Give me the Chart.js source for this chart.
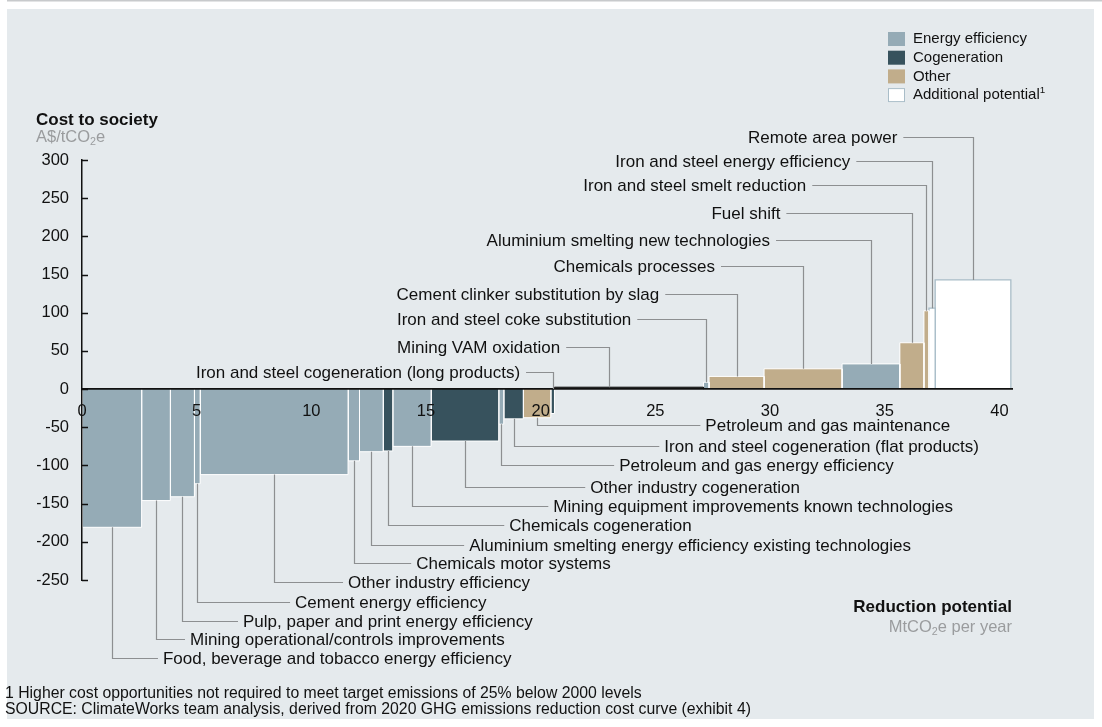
<!DOCTYPE html>
<html>
<head>
<meta charset="utf-8">
<script src="https://cdn.jsdelivr.net/npm/chart.js@4.4.1/dist/chart.umd.min.js"></script>
<style>
  body { margin: 0; background: #fff; overflow: hidden; }
</style>
</head>
<body>
<canvas id="myChart" width="1102" height="727"></canvas>
<script>
// Opportunities, left to right along the curve
const names = [
  "Food, beverage and tobacco energy efficiency",
  "Mining operational/controls improvements",
  "Pulp, paper and print energy efficiency",
  "Cement energy efficiency",
  "Other industry efficiency",
  "Chemicals motor systems",
  "Aluminium smelting energy efficiency existing technologies",
  "Chemicals cogeneration",
  "Mining equipment improvements known technologies",
  "Other industry cogeneration",
  "Petroleum and gas energy efficiency",
  "Iron and steel cogeneration (flat products)",
  "Petroleum and gas maintenance",
  "Iron and steel cogeneration (long products)",
  "Mining VAM oxidation",
  "Iron and steel coke substitution",
  "Cement clinker substitution by slag",
  "Chemicals processes",
  "Aluminium smelting new technologies",
  "Fuel shift",
  "Iron and steel smelt reduction",
  "Iron and steel energy efficiency",
  "Remote area power",
];
// reduction potential, MtCO2e per year (bar widths)
const widths = [2.6, 1.25, 1.05, 0.25, 6.45, 0.5, 1.03, 0.42, 1.67, 2.95, 0.22, 0.85, 1.2, 0.16, 6.5, 0.24, 2.4, 3.4, 2.52, 1.05, 0.22, 0.27, 3.3];
// cost to society, A$/tCO2e (bar heights)
const costs = [-181, -146, -141, -124, -112, -94, -82, -81, -75, -68, -46, -39, -37.5, -32, 2.5, 9, 16.6, 26.6, 33, 60.7, 102.6, 106, 143];
const types = ["ee", "ee", "ee", "ee", "ee", "ee", "ee", "cogen", "ee", "cogen", "ee", "cogen", "other", "cogen", "vam", "ee", "other", "other", "ee", "other", "other", "add", "add"];

const yTicks = [-250, -200, -150, -100, -50, 0, 50, 100, 150, 200, 250, 300];
const xTicks = [0, 5, 10, 15, 20, 25, 30, 35, 40];

// where each callout text sits (x in MtCO2e, y in A$/tCO2e)
const labelX = [3.53, 4.71, 7.02, 9.29, 11.6, 14.57, 16.88, 18.63, 20.55, 22.16, 23.42, 25.39, 27.18, 19.1, 20.85, 23.95, 25.17, 27.6, 30.0, 30.45, 31.58, 33.5, 35.55];
const labelY = [-354, -329, -305, -280, -254, -229, -206, -179.5, -155, -130, -101, -76, -48.5, 21, 54, 90, 123, 160, 194, 229, 266, 297.5, 329];
const leaderOverride = { 14: 22.99 };

const colors = {
  ee: "#95abb6",
  cogen: "#37525d",
  other: "#c1ad8b",
  vam: "#151515",
  add: "#ffffff",
};
const legendItems = [
  ["Energy efficiency", "ee"],
  ["Cogeneration", "cogen"],
  ["Other", "other"],
  ["Additional potential", "add"],
];

const FONT = "'Liberation Sans', Arial, sans-serif";

// left edge of each bar
const starts = [];
let acc = 0;
widths.forEach((w) => {
  starts.push(acc);
  acc += w;
});

const datasets = names.map((name, i) => {
  const x0 = starts[i];
  const x1 = starts[i] + widths[i];
  let border = "#ffffff";
  if (types[i] == "add") border = "#a9bdc8";
  if (types[i] == "vam") border = colors.vam;
  return {
    label: name,
    data: [
      { x: x0, y: 0 },
      { x: x0, y: costs[i] },
      { x: x1, y: costs[i] },
      { x: x1, y: 0 },
    ],
    backgroundColor: colors[types[i]],
    borderColor: border,
    borderWidth: types[i] == "add" ? 1.3 : 1,
    fill: "origin",
    pointRadius: 0,
    tension: 0,
  };
});

// draw text with a subscript / superscript part
function drawParts(ctx, parts, x, y, align, size, bold) {
  const w = parts.map((p) => {
    ctx.font = (bold ? "bold " : "") + (p.sub || p.sup ? size * 0.65 : size) + "px " + FONT;
    return ctx.measureText(p.t).width;
  });
  const total = w.reduce((a, b) => a + b, 0);
  let cx = align == "right" ? x - total : x;
  ctx.textAlign = "left";
  parts.forEach((p, k) => {
    ctx.font = (bold ? "bold " : "") + (p.sub || p.sup ? size * 0.65 : size) + "px " + FONT;
    let dy = 0;
    if (p.sub) dy = size * 0.3;
    if (p.sup) dy = -size * 0.35;
    ctx.fillText(p.t, cx, y + dy);
    cx += w[k];
  });
}

const panelPlugin = {
  id: "panel",
  beforeDraw(chart) {
    const ctx = chart.ctx;
    ctx.save();
    ctx.fillStyle = "#ffffff";
    ctx.fillRect(0, 0, chart.width, chart.height);
    ctx.fillStyle = "#c8cacc";
    ctx.fillRect(7, 0, chart.width - 7, 1.5);
    ctx.fillStyle = "#e5eaed";
    ctx.fillRect(7, 9, 1087, 710);
    ctx.restore();
  },
};

const calloutPlugin = {
  id: "callouts",
  afterDraw(chart) {
    const ctx = chart.ctx;
    const x = chart.scales.x;
    const y = chart.scales.y;
    ctx.save();

    // inner tick marks on the y axis
    ctx.strokeStyle = "#111";
    ctx.lineWidth = 1.5;
    yTicks.forEach((v) => {
      const py = Math.round(y.getPixelForValue(v)) + 0.5;
      ctx.beginPath();
      ctx.moveTo(x.left, py);
      ctx.lineTo(x.left + 6, py);
      ctx.stroke();
    });

    // leader lines and callout text
    ctx.font = "17px " + FONT;
    ctx.textBaseline = "middle";
    names.forEach((name, i) => {
      const mid = leaderOverride[i] != null ? leaderOverride[i] : starts[i] + widths[i] / 2;
      const cx = Math.round(x.getPixelForValue(mid)) + 0.5;
      const ly = y.getPixelForValue(labelY[i]);
      const lx = x.getPixelForValue(labelX[i]);
      const lineY = Math.round(ly - 1) + 0.5;
      ctx.strokeStyle = "#8d8f91";
      ctx.lineWidth = 1.2;
      ctx.beginPath();
      if (labelY[i] > 0) {
        const top = y.getPixelForValue(Math.max(costs[i], 0));
        ctx.moveTo(lx + 6, lineY);
        ctx.lineTo(cx, lineY);
        ctx.lineTo(cx, top);
        ctx.stroke();
        ctx.fillStyle = "#111";
        ctx.textAlign = "right";
        ctx.fillText(name, lx, ly);
      } else {
        const bottom = y.getPixelForValue(costs[i]);
        ctx.moveTo(cx, bottom);
        ctx.lineTo(cx, lineY);
        ctx.lineTo(lx - 5, lineY);
        ctx.stroke();
        ctx.fillStyle = "#111";
        ctx.textAlign = "left";
        ctx.fillText(name, lx, ly);
      }
    });

    // axis titles
    ctx.fillStyle = "#111";
    drawParts(ctx, [{ t: "Cost to society" }], 36, 120, "left", 17, true);
    ctx.fillStyle = "#9a9c9e";
    drawParts(ctx, [{ t: "A$/tCO" }, { t: "2", sub: true }, { t: "e" }], 36, 137, "left", 16.5, false);
    ctx.fillStyle = "#111";
    drawParts(ctx, [{ t: "Reduction potential" }], x.right, 607, "right", 17, true);
    ctx.fillStyle = "#9a9c9e";
    drawParts(ctx, [{ t: "MtCO" }, { t: "2", sub: true }, { t: "e per year" }], x.right, 627, "right", 16.5, false);

    // legend
    legendItems.forEach((item, k) => {
      const top = 32 + k * 18.7;
      ctx.fillStyle = colors[item[1]];
      ctx.fillRect(888, top, 17, 14);
      if (item[1] == "add") {
        ctx.strokeStyle = "#a9bdc8";
        ctx.lineWidth = 1;
        ctx.strokeRect(888.5, top + 0.5, 16, 13);
      }
      ctx.fillStyle = "#111";
      const parts = [{ t: item[0] }];
      if (item[1] == "add") parts.push({ t: "1", sup: true });
      drawParts(ctx, parts, 913, top + 7, "left", 15, false);
    });

    // footnotes
    ctx.fillStyle = "#111";
    drawParts(ctx, [{ t: "1 Higher cost opportunities not required to meet target emissions of 25% below 2000 levels" }], 5, 694, "left", 15.8, false);
    drawParts(ctx, [{ t: "SOURCE: ClimateWorks team analysis, derived from 2020 GHG emissions reduction cost curve (exhibit 4)" }], 5, 710, "left", 15.8, false);

    ctx.restore();
  },
};

const config = {
  type: "line",
  data: { datasets: datasets },
  options: {
    responsive: false,
    animation: false,
    devicePixelRatio: 1,
    layout: {
      padding: { left: 37, top: 160, right: 90, bottom: 147 },
    },
    scales: {
      x: {
        type: "linear",
        position: { y: 0 },
        min: 0,
        max: 40.55,
        z: 1,
        afterBuildTicks: (scale) => {
          scale.ticks = xTicks.map((v) => ({ value: v }));
        },
        grid: { display: false, drawTicks: false, z: 1 },
        border: { display: true, color: "#111", width: 1.8, z: 1 },
        ticks: {
          z: 1,
          padding: 12,
          color: "#111",
          font: { family: FONT, size: 16.5 },
          maxRotation: 0,
          autoSkip: false,
        },
      },
      y: {
        type: "linear",
        position: "left",
        min: -250,
        max: 300,
        z: 1,
        afterBuildTicks: (scale) => {
          scale.ticks = yTicks.map((v) => ({ value: v }));
        },
        afterFit: (scale) => {
          scale.width = 45;
        },
        grid: { display: false, drawTicks: false, z: 1 },
        border: { display: true, color: "#111", width: 1.5, z: 1 },
        ticks: {
          z: 1,
          padding: 13,
          color: "#111",
          font: { family: FONT, size: 16.5 },
        },
      },
    },
    plugins: {
      legend: { display: false },
      tooltip: { enabled: false },
    },
  },
  plugins: [panelPlugin, calloutPlugin],
};

var myChart = new Chart(document.getElementById("myChart"), config);
</script>
</body>
</html>
